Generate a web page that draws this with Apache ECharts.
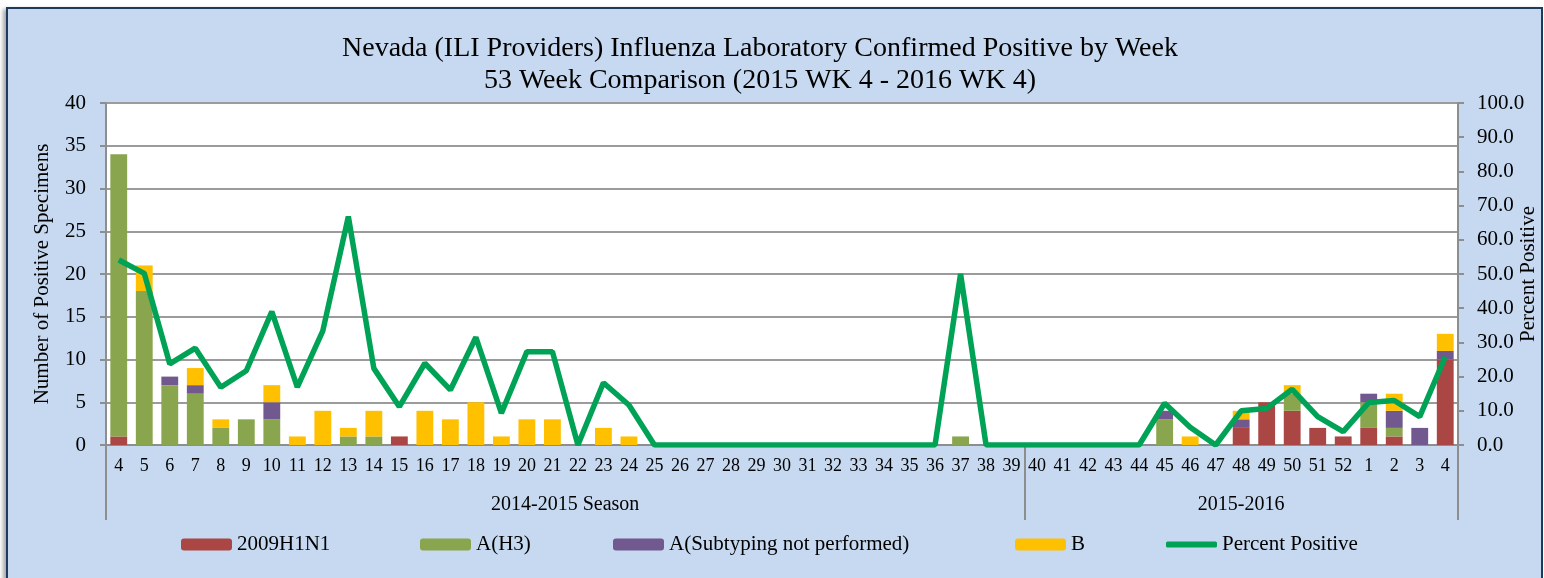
<!DOCTYPE html>
<html lang="en">
<head>
    <meta charset="UTF-8">
    <title>Nevada Influenza Laboratory Confirmed Positive by Week</title>
    <script src="https://cdn.jsdelivr.net/npm/echarts@6.0.0/dist/echarts.min.js"></script>
    <style>
        html, body {
            margin: 0;
            padding: 0;
            background: #ffffff;
            overflow: hidden;
        }
        #frame {
            position: absolute;
            left: 6px;
            top: 7px;
            width: 1533px;
            height: 580px;
            border: 2px solid #1f3b5c;
            border-bottom: none;
            box-shadow: -3px 2px 4px rgba(0, 0, 0, 0.35);
            background: #c6d9f1;
        }
        #chart {
            width: 1533px;
            height: 580px;
        }
    </style>
</head>
<body>
    <div id="frame"><div id="chart"></div></div>

    <script>
        // weeks 2015 wk 4 .. 2016 wk 4
        var weeks = ['4', '5', '6', '7', '8', '9', '10', '11', '12', '13',
            '14', '15', '16', '17', '18', '19', '20', '21', '22', '23',
            '24', '25', '26', '27', '28', '29', '30', '31', '32', '33',
            '34', '35', '36', '37', '38', '39', '40', '41', '42', '43',
            '44', '45', '46', '47', '48', '49', '50', '51', '52',
            '1', '2', '3', '4'];

        var h1n1 = [1, 0, 0, 0, 0, 0, 0, 0, 0, 0,
            0, 1, 0, 0, 0, 0, 0, 0, 0, 0,
            0, 0, 0, 0, 0, 0, 0, 0, 0, 0,
            0, 0, 0, 0, 0, 0, 0, 0, 0, 0,
            0, 0, 0, 0, 2, 5, 4, 2, 1,
            2, 1, 0, 10];

        var h3 = [33, 18, 7, 6, 2, 3, 3, 0, 0, 1,
            1, 0, 0, 0, 0, 0, 0, 0, 0, 0,
            0, 0, 0, 0, 0, 0, 0, 0, 0, 0,
            0, 0, 0, 1, 0, 0, 0, 0, 0, 0,
            0, 3, 0, 0, 0, 0, 2, 0, 0,
            3, 1, 0, 0];

        var unsubtyped = [0, 0, 1, 1, 0, 0, 2, 0, 0, 0,
            0, 0, 0, 0, 0, 0, 0, 0, 0, 0,
            0, 0, 0, 0, 0, 0, 0, 0, 0, 0,
            0, 0, 0, 0, 0, 0, 0, 0, 0, 0,
            0, 1, 0, 0, 1, 0, 0, 0, 0,
            1, 2, 2, 1];

        var fluB = [0, 3, 0, 2, 1, 0, 2, 1, 4, 1,
            3, 0, 4, 3, 5, 1, 3, 3, 0, 2,
            1, 0, 0, 0, 0, 0, 0, 0, 0, 0,
            0, 0, 0, 0, 0, 0, 0, 0, 0, 0,
            0, 0, 1, 0, 1, 0, 1, 0, 0,
            0, 2, 0, 2];

        var pctPositive = [54.1, 50.2, 23.7, 28.3, 16.9, 21.7, 39.0, 16.9, 33.4, 66.8,
            22.4, 11.2, 23.9, 16.1, 31.5, 9.3, 27.3, 27.3, 0, 18.2,
            11.7, 0, 0, 0, 0, 0, 0, 0, 0, 0,
            0, 0, 0, 50.0, 0, 0, 0, 0, 0, 0,
            0, 12.2, 5.2, 0, 10.0, 10.7, 16.3, 8.3, 3.9,
            12.4, 13.0, 8.3, 25.8];

        // season groups: [label, number of weeks]
        var seasons = [['2014-2015 Season', 36], ['2015-2016', 17]];

        var titleLines = [
            'Nevada (ILI Providers) Influenza Laboratory Confirmed Positive by Week',
            '53 Week Comparison (2015 WK 4 - 2016 WK 4)'
        ];

        var seasonTicks = [0];
        var seasonMids = [];
        var acc = 0;
        seasons.forEach(function (s) {
            seasonMids.push(acc + s[1] / 2);
            acc += s[1];
            seasonTicks.push(acc);
        });

        var font = 'Liberation Serif';
        var gray = '#8e8e8e';

        var myChart = echarts.init(document.getElementById('chart'));

        function barSeries(name, data, color) {
            return {
                name: name,
                type: 'bar',
                stack: 'specimens',
                data: data,
                barCategoryGap: '34%',
                itemStyle: { color: color },
                emphasis: { disabled: true }
            };
        }

        function legendAt(name, left, extra) {
            var lg = {
                data: [name],
                left: left,
                top: 525,
                itemWidth: 51,
                itemHeight: 12,
                padding: 0,
                textStyle: { fontFamily: font, fontSize: 21, color: '#000' }
            };
            return Object.assign(lg, extra || {});
        }

        myChart.setOption({
            backgroundColor: '#c6d9f1',
            animation: false,
            textStyle: { fontFamily: font },
            // title drawn as centred text (centre sits a little left of the canvas middle)
            graphic: [{
                type: 'text',
                x: 752,
                y: 24,
                style: {
                    text: titleLines.join('\n'),
                    align: 'center',
                    verticalAlign: 'top',
                    fontFamily: font,
                    fontSize: 28,
                    lineHeight: 32,
                    fill: '#000'
                }
            }],
            legend: [
                legendAt('2009H1N1', 173),
                legendAt('A(H3)', 412),
                legendAt('A(Subtyping not performed)', 605),
                legendAt('B', 1007),
                legendAt('Percent Positive', 1158, { icon: 'roundRect', itemHeight: 6 })
            ],
            grid: {
                left: 98,
                top: 94,
                width: 1352,
                height: 342,
                outerBoundsMode: 'none',
                containLabel: false,
                backgroundColor: '#ffffff',
                show: true,
                borderWidth: 0
            },
            xAxis: [{
                type: 'category',
                data: weeks,
                axisLine: { lineStyle: { color: gray, width: 2 } },
                axisTick: { show: false },
                axisLabel: {
                    interval: 0,
                    margin: 12,
                    fontSize: 18,
                    color: '#000'
                }
            }, {
                type: 'value',
                position: 'bottom',
                min: 0,
                max: 53,
                axisLine: { show: false },
                splitLine: { show: false },
                axisTick: {
                    show: true,
                    customValues: seasonTicks,
                    length: 75,
                    lineStyle: { color: gray, width: 2 }
                },
                axisLabel: {
                    customValues: seasonMids,
                    margin: 50,
                    fontSize: 20,
                    color: '#000',
                    formatter: function (v) {
                        var i = seasonMids.indexOf(v);
                        return i >= 0 ? seasons[i][0] : '';
                    }
                }
            }],
            yAxis: [{
                type: 'value',
                min: 0,
                max: 40,
                interval: 5,
                name: 'Number of Positive Specimens',
                nameLocation: 'middle',
                nameGap: 53,
                nameMoveOverlap: false,
                nameTextStyle: { fontSize: 21, color: '#000' },
                axisLine: { show: true, lineStyle: { color: gray, width: 2 } },
                axisTick: { show: true, length: 6, lineStyle: { color: gray, width: 2 } },
                axisLabel: { margin: 20, fontSize: 21, color: '#000' },
                splitLine: { lineStyle: { color: '#9b9b9b', width: 2 } }
            }, {
                type: 'value',
                min: 0,
                max: 100,
                interval: 10,
                position: 'right',
                name: 'Percent Positive',
                nameLocation: 'middle',
                nameGap: 60,
                nameMoveOverlap: false,
                nameTextStyle: { fontSize: 21, color: '#000' },
                axisLine: { show: true, lineStyle: { color: gray, width: 2 } },
                axisTick: { show: true, length: 6, lineStyle: { color: gray, width: 2 } },
                axisLabel: {
                    margin: 19,
                    fontSize: 21,
                    color: '#000',
                    formatter: function (v) { return v.toFixed(1); }
                },
                splitLine: { show: false }
            }],
            series: [
                barSeries('2009H1N1', h1n1, '#aa4643'),
                barSeries('A(H3)', h3, '#89a54e'),
                barSeries('A(Subtyping not performed)', unsubtyped, '#71588f'),
                barSeries('B', fluB, '#ffc000'),
                {
                    name: 'Percent Positive',
                    type: 'line',
                    yAxisIndex: 1,
                    data: pctPositive,
                    symbol: 'none',
                    z: 5,
                    lineStyle: { color: '#00a256', width: 5.5 },
                    itemStyle: { color: '#00a256' },
                    emphasis: { disabled: true }
                }
            ]
        });
    </script>
</body>
</html>
